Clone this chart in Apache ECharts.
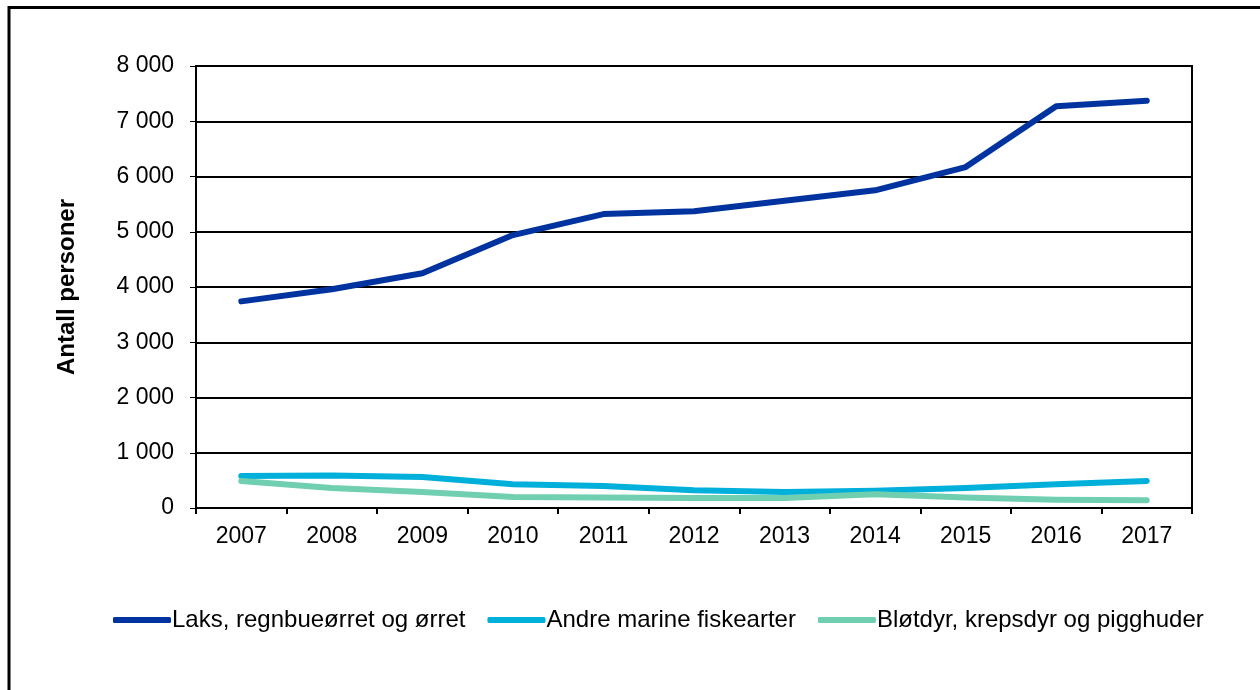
<!DOCTYPE html>
<html>
<head>
<meta charset="utf-8">
<script src="https://cdn.jsdelivr.net/npm/echarts@6/dist/echarts.min.js"></script>
<style>
  html, body { margin: 0; padding: 0; background: #fff; }
  #chart { width: 1260px; height: 690px; }
</style>
</head>
<body>
<div id="chart"></div>
<script>
const years = ["2007", "2008", "2009", "2010", "2011", "2012", "2013", "2014", "2015", "2016", "2017"];
const laks = [3740, 3960, 4250, 4940, 5320, 5370, 5560, 5750, 6170, 7270, 7370];
const andreMarine = [580, 590, 560, 430, 400, 320, 290, 310, 360, 430, 490];
const blotdyr = [490, 360, 290, 200, 190, 180, 180, 250, 190, 150, 140];

const FONT = "'Liberation Sans', Arial, sans-serif";

function formatThousands(v) {
  return String(v).replace(/\B(?=(\d{3})+(?!\d))/g, " ");
}

const chart = echarts.init(document.getElementById("chart"));

chart.setOption({
  backgroundColor: "#fff",
  animation: false,
  graphic: [
    {
      type: "polyline",
      shape: { points: [[9, 690], [9, 7.5], [1260, 7.5]] },
      style: { stroke: "#000", lineWidth: 3, fill: null }
    }
  ],
  grid: {
    left: 196,
    right: 68,
    top: 66,
    bottom: 182,
    show: true,
    borderColor: "#000",
    borderWidth: 2,
    backgroundColor: "transparent"
  },
  legend: {
    left: 108,
    top: 603,
    itemWidth: 58,
    itemHeight: 6,
    itemGap: 22,
    icon: "roundRect",
    textStyle: { fontFamily: FONT, fontSize: 24, color: "#000", padding: [0, 0, 0, -4] },
    data: ["Laks, regnbueørret og ørret", "Andre marine fiskearter", "Bløtdyr, krepsdyr og pigghuder"]
  },
  xAxis: {
    type: "category",
    data: years,
    boundaryGap: true,
    axisLine: { lineStyle: { color: "#000", width: 2 } },
    axisTick: { show: true, alignWithLabel: false, length: 6, lineStyle: { color: "#000", width: 2 } },
    axisLabel: { fontFamily: FONT, fontSize: 23, color: "#000", margin: 17 }
  },
  yAxis: {
    type: "value",
    min: 0,
    max: 8000,
    interval: 1000,
    name: "Antall personer",
    nameLocation: "middle",
    nameGap: 117,
    nameTextStyle: { fontFamily: FONT, fontSize: 24, fontWeight: "bold", color: "#000" },
    axisLine: { show: true, lineStyle: { color: "#000", width: 2 } },
    axisTick: { show: true, length: 6, lineStyle: { color: "#000", width: 1 } },
    splitLine: { show: true, lineStyle: { color: "#000", width: 2 } },
    axisLabel: {
      fontFamily: FONT,
      fontSize: 23,
      color: "#000",
      margin: 22,
      formatter: formatThousands
    }
  },
  series: [
    {
      name: "Laks, regnbueørret og ørret",
      type: "line",
      data: laks,
      symbol: "none",
      color: "#0033a0",
      lineStyle: { width: 6, color: "#0033a0", cap: "round", join: "round" }
    },
    {
      name: "Andre marine fiskearter",
      type: "line",
      data: andreMarine,
      symbol: "none",
      color: "#00b0da",
      lineStyle: { width: 6, color: "#00b0da", cap: "round", join: "round" }
    },
    {
      name: "Bløtdyr, krepsdyr og pigghuder",
      type: "line",
      data: blotdyr,
      symbol: "none",
      color: "#70cfb0",
      lineStyle: { width: 6, color: "#70cfb0", cap: "round", join: "round" }
    }
  ]
});
</script>
</body>
</html>
